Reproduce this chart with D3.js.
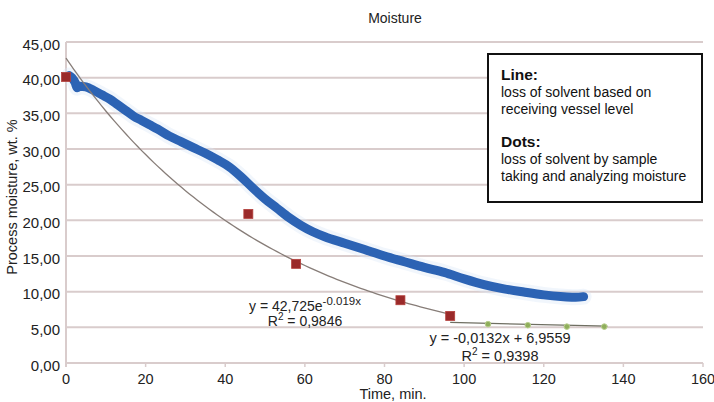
<!DOCTYPE html>
<html><head><meta charset="utf-8">
<script src="https://cdn.jsdelivr.net/npm/d3@7"></script>
<style>
html,body{margin:0;padding:0;background:#fff;}
svg{display:block;font-family:"Liberation Sans",Arial,sans-serif;}
</style></head>
<body><svg id="c" width="714" height="402"></svg>
<script>
// ---- data ----
const lineTime  = [0.8,1.5,2.3,2.8,3.5,5,7,9,11,13,15,17,19,21,23,26,29,32,35,38,41,44,47,50,53,56,59,62,65,70,75,80,85,90,95,100,105,110,115,120,125,128,130];
const lineValue = [40.3,40.0,39.3,38.6,38.8,38.7,38.2,37.6,37.0,36.2,35.4,34.6,34.0,33.4,32.8,31.8,31.0,30.2,29.4,28.5,27.5,26.1,24.5,23.0,21.7,20.4,19.3,18.4,17.7,16.8,15.9,15.0,14.2,13.4,12.7,11.8,11.0,10.4,9.95,9.55,9.3,9.2,9.3];
const dotTime   = [0,45.8,57.8,84,96.5];
const dotValue  = [40.1,20.9,13.9,8.8,6.6];
const lateTime  = [106,116,125.8,135.2];
const lateValue = [5.45,5.3,5.1,5.1];
// trendlines as displayed on the chart
const expCoef = [42.725, -0.019]; const expRange = [0, 97];
const linCoef = [-0.0132, 6.9559]; const linRange = [96.5, 136];
const xTicks = [0,20,40,60,80,100,120,140,160];
const yTicks = [0,5,10,15,20,25,30,35,40,45];
const legendLines = [
  {t:"Line:", b:true}, {t:"loss of solvent based on"}, {t:"receiving vessel level"}, {t:""},
  {t:"Dots:", b:true}, {t:"loss of solvent by sample"}, {t:"taking and analyzing moisture"}
];

const svg = d3.select("#c");
const x = d3.scaleLinear().domain([0,160]).range([66,703]);
const y = d3.scaleLinear().domain([0,45]).range([363,42]);
const gridCol = "#d9cccc";
const txt = "#222";

// grid
svg.append("g").selectAll("line").data(yTicks).join("line")
  .attr("x1",x(0)).attr("x2",x(160)).attr("y1",d=>y(d)).attr("y2",d=>y(d))
  .attr("stroke",gridCol).attr("stroke-width",2);
svg.append("line").attr("x1",x(0)).attr("x2",x(0)).attr("y1",y(45)).attr("y2",y(0)+4)
  .attr("stroke",gridCol).attr("stroke-width",2);
// x ticks
svg.append("g").selectAll("line").data(xTicks).join("line")
  .attr("x1",d=>x(d)).attr("x2",d=>x(d)).attr("y1",y(0)).attr("y2",y(0)+4)
  .attr("stroke",gridCol).attr("stroke-width",1.5);

// tick labels
const fmt = d => d3.format(".2f")(d).replace(".",",");
svg.append("g").selectAll("text").data(yTicks).join("text")
  .attr("x",60).attr("y",d=>y(d)+7.5).attr("text-anchor","end")
  .attr("font-size",15).attr("fill",txt).text(fmt);
svg.append("g").selectAll("text").data(xTicks).join("text")
  .attr("x",d=>x(d)).attr("y",384).attr("text-anchor","middle")
  .attr("font-size",14.5).attr("fill",txt).text(d=>d);

// axis titles
svg.append("text").attr("x",395).attr("y",23).attr("text-anchor","middle")
  .attr("font-size",14).attr("fill",txt).text("Moisture");
svg.append("text").attr("x",393).attr("y",399).attr("text-anchor","middle")
  .attr("font-size",14.5).attr("fill",txt).text("Time, min.");
svg.append("text").attr("transform","translate(17,197) rotate(-90)").attr("text-anchor","middle")
  .attr("font-size",14.5).attr("fill",txt).text("Process moisture, wt. %");

// blue line
const pts = lineTime.map((t,i)=>[t,lineValue[i]]);
const lg = d3.line().x(d=>x(d[0])).y(d=>y(d[1])).curve(d3.curveMonotoneX);
svg.append("path").attr("d",lg(pts)).attr("fill","none").attr("stroke","#dbe8f8")
  .attr("stroke-width",16).attr("stroke-opacity",0.4).attr("stroke-linecap","round");
svg.append("path").attr("d",lg(pts)).attr("fill","none").attr("stroke","#2c63b4")
  .attr("stroke-width",9).attr("stroke-linecap","round").attr("stroke-linejoin","round");

// exponential trendline
const expPts = d3.range(expRange[0], expRange[1]+0.5, 1).map(t=>[t, expCoef[0]*Math.exp(expCoef[1]*t)]);
svg.append("path").attr("d",d3.line().x(d=>x(d[0])).y(d=>y(d[1]))(expPts))
  .attr("fill","none").attr("stroke","#877d78").attr("stroke-width",1.3);
// linear trendline
const linPts = linRange.map(t=>[t, linCoef[0]*t+linCoef[1]]);
svg.append("path").attr("d",d3.line().x(d=>x(d[0])).y(d=>y(d[1]))(linPts))
  .attr("fill","none").attr("stroke","#6f6f62").attr("stroke-width",1.3);

// red squares
svg.append("g").selectAll("rect").data(dotTime.map((t,i)=>[t,dotValue[i]])).join("rect")
  .attr("x",d=>x(d[0])-4.5).attr("y",d=>y(d[1])-4.5).attr("width",9).attr("height",9)
  .attr("fill","#9a2a2a").attr("stroke","#b4403c").attr("stroke-width",0.8);
// green dots
svg.append("g").selectAll("circle").data(lateTime.map((t,i)=>[t,lateValue[i]])).join("circle")
  .attr("cx",d=>x(d[0])).attr("cy",d=>y(d[1])).attr("r",2.8)
  .attr("fill","#8fae5c").attr("stroke","#b9d08e").attr("stroke-width",1);

// equations
const e1 = svg.append("text").attr("x",305).attr("y",311).attr("text-anchor","middle")
  .attr("font-size",14).attr("fill",txt);
e1.append("tspan").text("y = 42,725e");
e1.append("tspan").attr("dy",-6).attr("font-size",11.5).text("-0.019x");
const e2 = svg.append("text").attr("x",305).attr("y",326).attr("text-anchor","middle")
  .attr("font-size",14).attr("fill",txt);
e2.append("tspan").text("R");
e2.append("tspan").attr("dy",-6).attr("font-size",10).text("2");
e2.append("tspan").attr("dy",6).text(" = 0,9846");

svg.append("text").attr("x",500).attr("y",343).attr("text-anchor","middle")
  .attr("font-size",14.5).attr("fill",txt).text("y = -0,0132x + 6,9559");
const e4 = svg.append("text").attr("x",500).attr("y",361).attr("text-anchor","middle")
  .attr("font-size",14.5).attr("fill",txt);
e4.append("tspan").text("R");
e4.append("tspan").attr("dy",-6).attr("font-size",10).text("2");
e4.append("tspan").attr("dy",6).text(" = 0,9398");

// legend box
svg.append("rect").attr("x",488).attr("y",54).attr("width",214).attr("height",148)
  .attr("fill","#fff").attr("stroke","#111").attr("stroke-width",2);
svg.append("g").selectAll("text").data(legendLines).join("text")
  .attr("x",501).attr("y",(d,i)=>79.5+i*17-(i>=4?1:0))
  .attr("font-size",d=>d.b?15.5:14).attr("font-weight",d=>d.b?"bold":"normal")
  .attr("fill","#111").text(d=>d.t);
</script></body></html>
